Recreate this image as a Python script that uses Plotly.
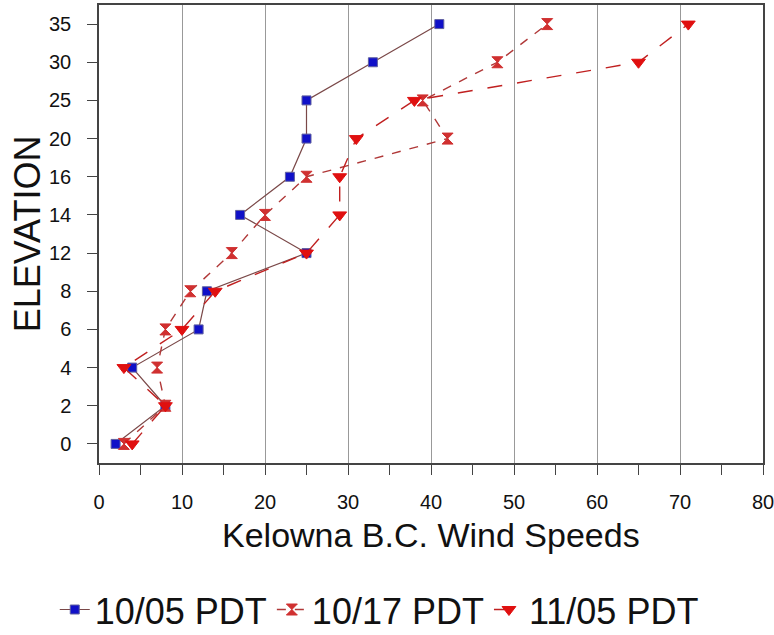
import plotly.graph_objects as go

# elevation categories (evenly spaced on the chart)
elevation = ['0', '2', '4', '6', '8', '12', '14', '16', '20', '25', '30', '35']

# wind speeds per elevation
wind_1005 = [2, 8, 4, 12, 13, 25, 17, 23, 25, 25, 33, 41]
wind_1017 = [3, 8, 7, 8, 11, 16, 20, 25, 42, 39, 48, 54]
wind_1105 = [4, 8, 3, 10, 14, 25, 29, 29, 31, 38, 65, 71]

font = 'Liberation Sans, Arial, sans-serif'

fig = go.Figure()

fig.add_trace(go.Scatter(
    x=wind_1005, y=elevation, name='10/05 PDT', mode='lines+markers',
    line=dict(color='#7a4848', width=1.2),
    marker=dict(symbol='square', size=9, color='#1010c8', line=dict(color='#6060a0', width=1))
))
fig.add_trace(go.Scatter(
    x=wind_1017, y=elevation, name='10/17 PDT', mode='lines+markers',
    line=dict(color='#b03838', width=1.4, dash='dash'),
    marker=dict(symbol='hourglass', size=11, color='#d03030', line=dict(color='#d03030', width=1))
))
fig.add_trace(go.Scatter(
    x=wind_1105, y=elevation, name='11/05 PDT', mode='lines+markers',
    line=dict(color='#c02020', width=1.4, dash='longdash'),
    marker=dict(symbol='triangle-down', size=12, color='#e01010', line=dict(color='#e01010', width=1))
))

fig.update_layout(
    width=774, height=635,
    margin=dict(l=99, r=11, t=5, b=172, autoexpand=False),
    paper_bgcolor='white', plot_bgcolor='white',
    font=dict(family=font, color='#111'),
    showlegend=True,
    legend=dict(orientation='h', xref='container', yref='container',
                x=0.49, xanchor='center', y=0.04, yanchor='middle',
                font=dict(size=36, family=font), itemwidth=30, tracegroupgap=0),
)

# axis titles placed as annotations for exact positioning
fig.add_annotation(text='Kelowna B.C. Wind Speeds', xref='paper', yref='paper',
                   x=0.5, y=-0.157, xanchor='center', yanchor='middle', showarrow=False,
                   font=dict(size=34, family=font, color='#111'))
fig.add_annotation(text='ELEVATION', xref='paper', yref='paper',
                   x=-0.108, y=0.5, xanchor='center', yanchor='middle', showarrow=False,
                   textangle=-90, font=dict(size=36, family=font, color='#111'))

fig.update_xaxes(
    range=[0, 80], dtick=10, tick0=0, automargin=False,
    showgrid=True, gridcolor='#999', gridwidth=1.2,
    zeroline=False,
    showline=True, linecolor='#444', linewidth=1.5, mirror=True,
    ticks='outside', ticklen=10, tickcolor='#444',
    minor=dict(dtick=5, ticks='outside', ticklen=10, tickcolor='#444', showgrid=False),
    tickfont=dict(size=20, family=font),
    ticklabelstandoff=10, ticklabeloverflow='allow',
)
fig.update_yaxes(
    type='category', categoryorder='array', categoryarray=elevation,
    range=[-0.5, 11.5], automargin=False,
    showgrid=False, zeroline=False,
    showline=True, linecolor='#444', linewidth=1.5, mirror=True,
    ticks='outside', ticklen=10, tickcolor='#444',
    tickfont=dict(size=20, family=font),
    ticklabelstandoff=12,
)

fig.write_html('out.html', config={'displayModeBar': False},
               post_script="document.body.style.margin='0';")
